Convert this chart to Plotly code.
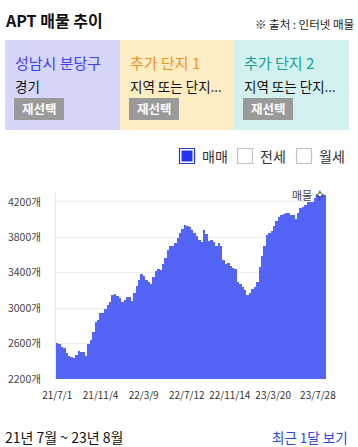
import pandas as pd
import plotly.graph_objects as go

# ---- data ----
week_dates = pd.date_range("2021-07-01", periods=112, freq="7D")
listing_counts = [
    2605, 2595, 2565, 2550, 2495, 2460, 2450, 2438, 2470, 2515,
    2510, 2505, 2460, 2595, 2635, 2730, 2845, 2865, 2940, 2950,
    2990, 3035, 3075, 3150, 3160, 3135, 3115, 3070, 3095, 3130,
    3130, 3085, 3170, 3250, 3320, 3385, 3360, 3320, 3295, 3275,
    3350, 3420, 3445, 3430, 3500, 3570, 3660, 3705, 3705, 3735,
    3790, 3850, 3893, 3935, 3925, 3915, 3880, 3850, 3815, 3765,
    3750, 3880, 3840, 3760, 3770, 3745, 3705, 3730, 3700, 3540,
    3500, 3505, 3480, 3456, 3440, 3300, 3275, 3240, 3200, 3150,
    3175, 3213, 3235, 3300, 3460, 3590, 3700, 3830, 3850, 3875,
    3925, 3980, 4030, 4054, 4060, 4078, 4070, 4054, 4054, 4005,
    4073, 4129, 4140, 4170, 4200, 4195, 4200, 4240, 4280, 4250,
    4275, 4280,
]
x_tick_dates = ["2021-07-01", "2021-11-04", "2022-03-09", "2022-07-12",
                "2022-11-14", "2023-03-20", "2023-07-28"]
x_tick_labels = ["21/7/1", "21/11/4", "22/3/9", "22/7/12",
                 "22/11/14", "23/3/20", "23/7/28"]
y_tick_values = [2200, 2600, 3000, 3400, 3800, 4200]
y_tick_labels = [f"{v}개" for v in y_tick_values]

panel_titles = ["성남시 분당구", "추가 단지 1", "추가 단지 2"]
panel_subtitles = ["경기", "지역 또는 단지...", "지역 또는 단지..."]
legend_items = ["매매", "전세", "월세"]

# ---- layout helpers (pixel -> paper) ----
W, H = 358, 447
L, R, T, B = 56, 32, 193, 68
PW, PH = W - L - R, H - T - B


def px(x):
    return (x - L) / PW


def py(y):
    return (H - B - y) / PH


FONT = "Noto Sans CJK KR"
BAR = "#5464F6"

fig = go.Figure()
fig.add_bar(x=week_dates, y=listing_counts, marker_color=BAR,
            marker_line_width=0, hoverinfo="skip", showlegend=False)

shapes = []
annotations = []


def text(x, y, s, size, color, anchor="left", bold=False):
    annotations.append(dict(
        x=px(x), y=py(y), xref="paper", yref="paper", showarrow=False,
        text=f"<b>{s}</b>" if bold else s, xanchor=anchor, yanchor="middle",
        font=dict(family=FONT, size=size, color=color)))


def rect(x0, y0, x1, y1, fill, line=None, lw=0):
    shapes.append(dict(type="rect", xref="paper", yref="paper",
                       x0=px(x0), x1=px(x1), y0=py(y1), y1=py(y0),
                       fillcolor=fill, line=dict(color=line or fill, width=lw),
                       layer="above"))


# header
text(3, 20, "APT 매물 추이", 16, "#111111", bold=True)
text(356, 24, "※ 출처 : 인터넷 매물", 11.5, "#222222", anchor="right")

# panels
panel_bg = ["#D6D6FA", "#FDEDC3", "#D2F0EE"]
panel_fg = ["#3F3FE8", "#F7901E", "#14A096"]
panel_x = [(5, 120), (120, 234), (234, 349)]
for i in range(3):
    x0, x1 = panel_x[i]
    rect(x0, 40, x1, 130, panel_bg[i])
    text(x0 + 8, 62, panel_titles[i], 15, panel_fg[i])
    text(x0 + 8, 86, panel_subtitles[i], 13.5, "#111111")
    rect(x0 + 9, 98, x0 + 59, 120, "#9A9A9A")
    text(x0 + 34, 109, "재선택", 12.5, "#FFFFFF", anchor="center", bold=True)

# legend checkboxes
box_x = [179, 237, 296]
for i in range(3):
    bx = box_x[i]
    if i == 0:
        rect(bx + 0.5, 148.5, bx + 15.5, 163.5, "#FFFFFF", "#2434F0", 1.2)
        rect(bx + 2.5, 150.5, bx + 13.5, 161.5, "#2434F0")
    else:
        rect(bx + 0.5, 148.5, bx + 15.5, 163.5, "#FFFFFF", "#BFC2CC", 1.2)
    text(bx + 21, 156, legend_items[i], 14, "#333333")

# chart label
text(327, 195, "매물 수", 11, "#444444", anchor="right")

# footer
text(3, 437, "21년 7월 ~ 23년 8월", 14, "#111111")
text(350, 437, "최근 1달 보기", 13.5, "#2B49E0", anchor="right")

fig.update_layout(
    width=W, height=H, margin=dict(l=L, r=R, t=T, b=B, autoexpand=False),
    paper_bgcolor="white", plot_bgcolor="white", bargap=0,
    shapes=shapes, annotations=annotations,
    font=dict(family=FONT),
    xaxis=dict(type="date", range=["2021-06-27 12:00", "2023-08-20 12:00"],
               tickvals=x_tick_dates, ticktext=x_tick_labels, tickangle=0,
               showgrid=False, showline=False, zeroline=False, ticks="",
               tickfont=dict(family=FONT, size=10, color="#333333"),
               ticklabelstandoff=9, fixedrange=True, automargin=False),
    yaxis=dict(range=[2200, 4300], tickvals=y_tick_values,
               ticktext=y_tick_labels, showgrid=True, gridcolor="#EEEEEE",
               gridwidth=1, showline=True, linecolor="#E8E8E8", linewidth=1,
               zeroline=False, ticks="",
               tickfont=dict(family=FONT, size=10.5, color="#444444"),
               ticklabelstandoff=12, fixedrange=True, automargin=False),
)

fig.write_html(
    "out.html",
    config={"displayModeBar": False},
    post_script="document.body.style.margin='0px';"
                "document.body.style.overflow='hidden';",
)
